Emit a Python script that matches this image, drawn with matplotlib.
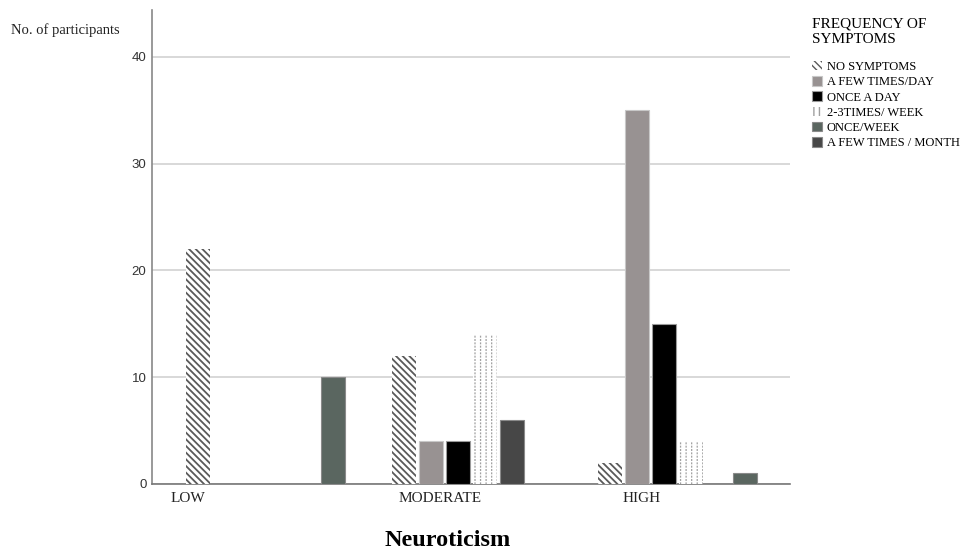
import matplotlib
matplotlib.use('Agg')
import matplotlib.pyplot as plt
from matplotlib.patches import Patch
import numpy as np

# data
groups = ['LOW', 'MODERATE', 'HIGH']
series = ['NO SYMPTOMS', 'A FEW TIMES/DAY', 'ONCE A DAY',
          '2-3TIMES/ WEEK', 'ONCE/WEEK', 'A FEW TIMES / MONTH']
values = {
    'LOW':      [22, 0, 0, 0, 0, 10],
    'MODERATE': [12, 4, 4, 14, 6, 0],
    'HIGH':     [2, 35, 15, 4, 0, 1],
}
yticks = [0, 10, 20, 30, 40]

# styling per series (face, edge, hatch)
styles = [
    dict(facecolor='white', edgecolor='#5a5a5a', hatch='\\' * 5, linewidth=0),
    dict(facecolor='#989292', edgecolor='#c8c8c8', linewidth=0.8),
    dict(facecolor='#000000', edgecolor='#9a9a9a', linewidth=0.8),
    dict(facecolor='white', edgecolor='#a0a0a0', hatch='|||', linewidth=0),
    dict(facecolor='#474747', edgecolor='#8a8a8a', linewidth=0.8),
    dict(facecolor='#5a6660', edgecolor='#8a8a8a', linewidth=0.8),
]
hatch_lw = [1.3, 1.0, 1.0, 0.9, 1.0, 1.0]

plt.rcParams['font.family'] = ['Liberation Serif', 'DejaVu Serif']

fig = plt.figure(figsize=(9.72, 5.49), dpi=100)
ax = fig.add_axes([0.1564, 0.1184, 0.6564, 0.8634])

gap = 1.63   # space between groups, in slot units
width = 0.89
for g, grp in enumerate(groups):
    for s, v in enumerate(values[grp]):
        if v == 0:
            continue
        x = g * (len(series) + gap) + s
        with plt.rc_context({'hatch.linewidth': hatch_lw[s]}):
            ax.bar(x, v, width=width, zorder=3, **styles[s])
        if s == 3:
            # break the vertical hatch lines into dots
            with plt.rc_context({'hatch.linewidth': 1.0}):
                ax.bar(x, v, width=width, zorder=4, facecolor='none',
                       edgecolor='white', hatch='-' * 5, linewidth=0)

ax.set_xlim(-1.70, 21.93)
ax.set_ylim(0, 44.4)
ax.set_yticks(yticks)
ax.set_yticklabels([str(t) for t in yticks], family='Liberation Sans', fontsize=9.5, color='#333333')
ax.yaxis.grid(True, color='#d2d2d2', linewidth=1.2, zorder=0)
ax.set_axisbelow(True)
ax.tick_params(axis='y', length=0, pad=4)

# category labels (SPSS places them off-centre)
ax.set_xticks([-0.37, 8.96, 16.44])
ax.set_xticklabels(groups, fontsize=11, color='#222222')
ax.tick_params(axis='x', length=0, pad=6)

for side in ['top', 'right']:
    ax.spines[side].set_visible(False)
ax.spines['left'].set_color('#888888')
ax.spines['bottom'].set_color('#777777')
ax.spines['left'].set_linewidth(1.2)
ax.spines['bottom'].set_linewidth(1.2)

fig.text(0.011, 0.945, 'No. of participants', fontsize=10.5, color='#222222', va='center')
fig.text(0.461, 0.016, 'Neuroticism', fontsize=17.5, fontweight='bold', ha='center', va='center')

legend_order = [0, 1, 2, 3, 5, 4]
with plt.rc_context({'hatch.linewidth': 1.0}):
    handles = [Patch(**styles[i]) for i in legend_order]
leg = fig.legend(handles, series, loc='upper left', bbox_to_anchor=(0.830, 0.977),
                 frameon=False, title='FREQUENCY OF\nSYMPTOMS', alignment='left',
                 fontsize=9, title_fontsize=11, handlelength=0.8, handleheight=0.8,
                 handletextpad=0.4, labelspacing=0.25, borderaxespad=0)
leg._legend_box.sep = 11

fig.savefig('out.png', dpi=100)
